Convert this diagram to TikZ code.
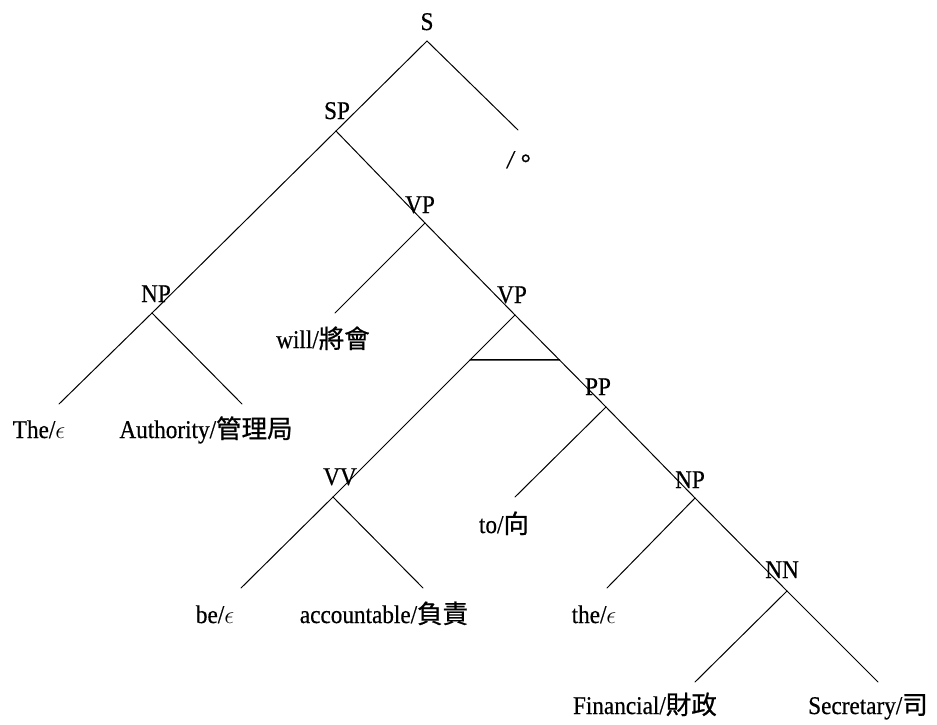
\documentclass[tikz,border=0pt]{standalone}
\usepackage{fontspec}
\setmainfont{Liberation Serif}[FakeStretch=0.91,FakeBold=0.5]
\newfontfamily\cjk{Noto Sans CJK TC}[FakeBold=0.8]
\usetikzlibrary{calc}
\begin{document}
\begin{tikzpicture}[x=1pt,y=-1pt,
  lab/.style={anchor=base, inner sep=0pt, font=\fontsize{25.5}{30}\selectfont},
  leaf/.style={anchor=base, inner sep=0pt, font=\fontsize{25.5}{30}\selectfont},
  edge/.style={line width=1pt, line cap=round},
  barline/.style={line width=1.5pt, line cap=round}]
\useasboundingbox (0,0) rectangle (937,724);
% internal labels
\node[lab] (lS)   at (427,30)  {S};
\node[lab] (lSP)  at (337,119) {SP};
\node[lab] (lVP1) at (420,213) {VP};
\node[lab] (lNP1) at (156,302) {NP};
\node[lab] (lVP2) at (512,303) {VP};
\node[lab] (lVV)  at (340,485) {VV};
\node[lab] (lPP)  at (598,395) {PP};
\node[lab] (lNP2) at (690,488) {NP};
\node[lab] (lNN)  at (782,578) {NN};
% apexes
\coordinate (s)   at (427,41);
\coordinate (sp)  at (336,131);
\coordinate (vp1) at (425,223);
\coordinate (np1) at (152,313);
\coordinate (vp2) at (515,315);
\coordinate (vv)  at (333,497);
\coordinate (pp)  at (606,407);
\coordinate (np2) at (695,498);
\coordinate (nn)  at (787,591);
% leaf line ends
\coordinate (eStop)  at (518,130);
\coordinate (eThe)   at (59,404);
\coordinate (eAuth)  at (242,404);
\coordinate (eWill)  at (335,313);
\coordinate (eBe)    at (241,588);
\coordinate (eAcc)   at (423,588);
\coordinate (eTo)    at (515,497);
\coordinate (eThe2)  at (607,588);
\coordinate (eFin)   at (695,682);
\coordinate (eSec)   at (878,682);
% leaf texts
\node[leaf, anchor=base west] (tStop) at (507,168) {\textit{/}\hspace{-2.5pt}{\cjk 。}};
\node[leaf] (tThe)  at (39,438)  {The/$\epsilon$};
\node[leaf] (tAuth) at (206,438) {Authority/{\cjk 管理局}};
\node[leaf] (tWill) at (323,348) {will/{\cjk 將會}};
\node[leaf] (tBe)   at (215,623) {be/$\epsilon$};
\node[leaf] (tAcc)  at (384,623) {accountable/{\cjk 負責}};
\node[leaf] (tTo)   at (504,533) {to/{\cjk 向}};
\node[leaf] (tThe2) at (594,623) {the/$\epsilon$};
\node[leaf, anchor=base east] (tFin) at (717,714) {Financial/{\cjk 財政}};
\node[leaf] (tSec)  at (868,714) {Secretary/{\cjk 司}};
% edges
\draw[edge] (s) -- (sp);
\draw[edge] (s) -- (eStop);
\draw[edge] (sp) -- (np1);
\draw[edge] (sp) -- (vp1);
\draw[edge] (np1) -- (eThe);
\draw[edge] (np1) -- (eAuth);
\draw[edge] (vp1) -- (eWill);
\draw[edge] (vp1) -- (vp2);
\draw[edge] (vp2) -- (vv);
\draw[edge] (vp2) -- (pp);
\coordinate (barL) at ($(vp2)!0.247!(vv)$);
\coordinate (barR) at ($(vp2)!0.489!(pp)$);
\draw[barline] (barL) -- (barR);
\draw[edge] (vv) -- (eBe);
\draw[edge] (vv) -- (eAcc);
\draw[edge] (pp) -- (eTo);
\draw[edge] (pp) -- (np2);
\draw[edge] (np2) -- (eThe2);
\draw[edge] (np2) -- (nn);
\draw[edge] (nn) -- (eFin);
\draw[edge] (nn) -- (eSec);
\end{tikzpicture}
\end{document}
